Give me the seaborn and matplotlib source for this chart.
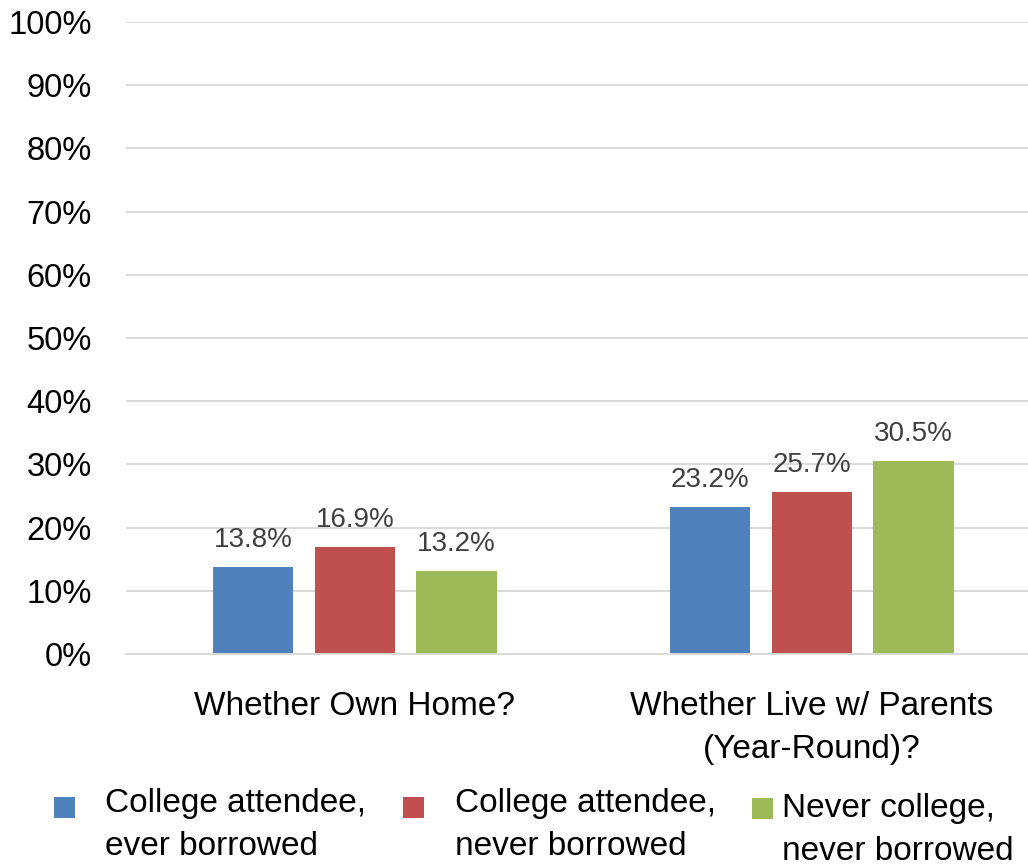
import matplotlib
matplotlib.use("Agg")
import matplotlib.pyplot as plt
from matplotlib.patches import Rectangle
import seaborn as sns
import pandas as pd

categories = ["Whether Own Home?", "Whether Live w/ Parents\n(Year-Round)?"]
series = ["College attendee,\never borrowed",
          "College attendee,\nnever borrowed",
          "Never college,\nnever borrowed"]
values = {
    series[0]: [13.8, 23.2],
    series[1]: [16.9, 25.7],
    series[2]: [13.2, 30.5],
}
colors = ["#4F81BD", "#C0504D", "#9BBB59"]
yticks = [0, 10, 20, 30, 40, 50, 60, 70, 80, 90, 100]

rows = []
for s in series:
    for c, v in zip(categories, values[s]):
        rows.append({"category": c, "series": s, "value": v})
df = pd.DataFrame(rows)

sns.set_theme(style="white")
plt.rcParams["font.family"] = ["Liberation Sans", "DejaVu Sans"]

W, H = 1028, 867
fig = plt.figure(figsize=(W / 100, H / 100), dpi=100)
ax = fig.add_axes([0.123, 0.2457, 0.889, 0.729])

sns.barplot(data=df, x="category", y="value", hue="series",
            palette=colors, width=0.667, gap=0.21, ax=ax,
            legend=False, saturation=1, edgecolor="none")

for container in ax.containers:
    ax.bar_label(container, labels=[f"{v:.1f}%" for v in container.datavalues],
                 padding=10, fontsize=20, color="#404040")

ax.set_ylim(0, 100)
ax.set_xlim(-0.5, 1.5)
ax.set_yticks(yticks)
ax.set_yticklabels([f"{t}%" for t in yticks], fontsize=23.5, color="black")
ax.tick_params(axis="y", length=0, pad=25)
ax.tick_params(axis="x", length=0, pad=27, labelsize=24, labelcolor="black")
for lbl in ax.get_xticklabels():
    lbl.set_linespacing(1.5)
ax.set_xlabel("")
ax.set_ylabel("")
ax.grid(axis="y", color="#d9d9d9", linewidth=1.4)
ax.set_axisbelow(True)
for side in ["top", "right", "left"]:
    ax.spines[side].set_visible(False)
ax.spines["bottom"].set_color("#d9d9d9")
ax.spines["bottom"].set_linewidth(1.4)

# Legend: square swatch beside a two-line label, laid out in pixel positions
legend_slots = [
    # (swatch x, swatch top y, text x, last-line baseline y)
    (54, 797, 105, 855),
    (403, 797, 455, 855),
    (752, 798, 782, 860),
]
swatch = 21
for (sx, sy, tx, ty), label, color in zip(legend_slots, series, colors):
    fig.patches.append(Rectangle((sx / W, 1 - (sy + swatch) / H), swatch / W, swatch / H,
                                 transform=fig.transFigure, facecolor=color,
                                 edgecolor="none"))
    fig.text(tx / W, 1 - ty / H, label, fontsize=24, color="black",
             ha="left", va="baseline", linespacing=1.52)

fig.savefig("out.png", dpi=100)
